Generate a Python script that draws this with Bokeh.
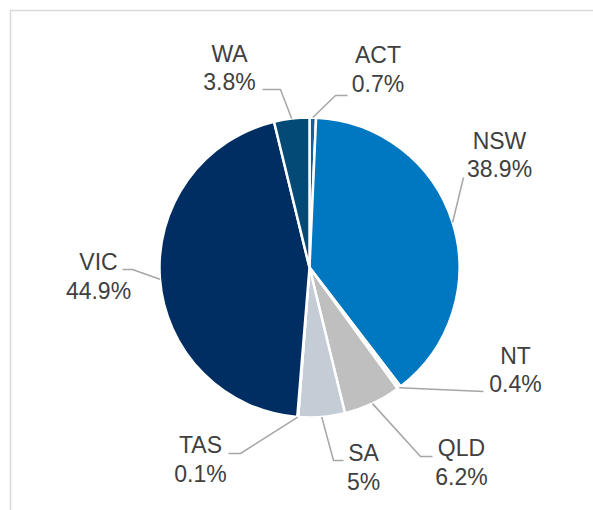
import math
from bokeh.plotting import figure
from bokeh.models import Range1d
from bokeh.core.properties import value
from bokeh.embed import file_html
from bokeh.resources import INLINE

# ---- data ----
states = ["ACT", "NSW", "NT", "QLD", "SA", "TAS", "VIC", "WA"]
shares = [0.7, 38.9, 0.4, 6.2, 5.0, 0.1, 44.9, 3.8]
colors = ["#1B5E9E", "#0078C1", "#F2F2F2", "#BFBFBF", "#C4CCD5", "#DDE3EA", "#002D62", "#044A76"]

# ---- layout (screen pixels, y measured from top) ----
W, H = 593, 510
CX, CY, R = 309, 267, 150
label_x = [377.5, 499, 515, 461, 363, 200, 98, 229]
label_y = [69, 154.5, 369.5, 462, 467, 459, 276, 67.5]
LINE_GAP = 28.5
elbow_x = [335, 463, 483, 420, 333, 240, 132, 280]
elbow_y = [95, 177, 391, 456, 460, 453, 269, 89]
end_x = [347, 463, 483, 432, 343, 228, 122, 262]
end_y = [95, 177, 391, 456, 460, 453, 269, 89]


def sy(y):
    return H - y


p = figure(width=W, height=H, output_backend="svg", toolbar_location=None,
           x_range=Range1d(0, W), y_range=Range1d(0, H), min_border=0)
p.axis.visible = False
p.grid.visible = False
p.outline_line_color = None
p.background_fill_color = "white"
p.border_fill_color = "white"

# chart frame
p.line(x=[10, 10, W + 5], y=[-5, sy(10), sy(10)], line_color="#D9D9D9", line_width=1.5)

total = sum(shares)
starts, ends, mids = [], [], []
acc = 0.0
for v in shares:
    a0 = acc / total
    acc += v
    a1 = acc / total
    starts.append(math.pi / 2 - 2 * math.pi * a0)
    ends.append(math.pi / 2 - 2 * math.pi * a1)
    mids.append(2 * math.pi * (a0 + a1) / 2)

p.wedge(x=CX, y=sy(CY), radius=R, start_angle=starts, end_angle=ends,
        direction="clock", fill_color=colors, line_color="white", line_width=2.5)

# leader lines
xs, ys = [], []
for i, m in enumerate(mids):
    px = CX + R * math.sin(m)
    py = CY - R * math.cos(m)
    xs.append([px, elbow_x[i], end_x[i]])
    ys.append([sy(py), sy(elbow_y[i]), sy(end_y[i])])
p.multi_line(xs=xs, ys=ys, line_color="#A6A6A6", line_width=1.5)

pct = [f"{v:g}%" for v in shares]
common = dict(text_font=value("Liberation Sans"), text_font_size="23px",
              text_color="#404040", text_align="center", text_baseline="middle")
p.text(x=label_x, y=[sy(y - LINE_GAP / 2) for y in label_y], text=states, **common)
p.text(x=label_x, y=[sy(y + LINE_GAP / 2) for y in label_y], text=pct, **common)

open("out.html", "w").write(file_html(p, INLINE))
